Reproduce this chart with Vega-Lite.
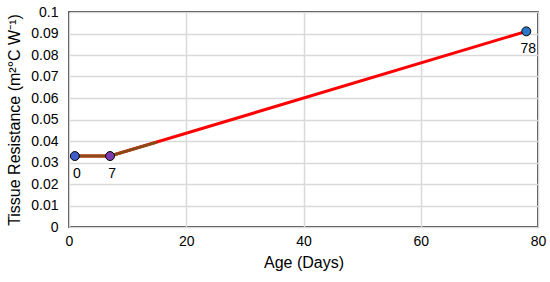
{
  "$schema": "https://vega.github.io/schema/vega-lite/v6.json",
  "width": 469,
  "height": 215,
  "autosize": {"type": "none"},
  "padding": {"left": 69, "top": 12, "right": 12, "bottom": 55},
  "background": "white",
  "config": {
    "font": "Liberation Sans",
    "view": {"stroke": "black", "strokeWidth": 1.5},
    "axis": {"labelFont": "Liberation Sans", "titleFont": "Liberation Sans", "labelColor": "black", "titleColor": "black", "labelFontSize": 14, "titleFontSize": 16, "titleFontWeight": "normal", "gridColor": "#d9d9d9", "gridWidth": 1.5, "domain": false, "ticks": false, "labelOverlap": false, "labelFlush": false}
  },
  "datasets": {
    "pts": [
      {"day": 1, "r": 0.033, "label": "0", "grp": "a"},
      {"day": 7, "r": 0.033, "label": "7", "grp": "b"},
      {"day": 78, "r": 0.091, "label": "78", "grp": "c"}
    ],
    "seg": [
      {"day": 1, "r": 0.033},
      {"day": 7, "r": 0.033},
      {"day": 15, "r": 0.0395}
    ]
  },
  "data": {"name": "pts"},
  "encoding": {
    "x": {"field": "day", "type": "quantitative", "scale": {"domain": [0, 80], "nice": false}, "axis": {"values": [0, 20, 40, 60, 80], "title": "Age (Days)", "labelPadding": 7, "titlePadding": 6}},
    "y": {"field": "r", "type": "quantitative", "scale": {"domain": [0, 0.1], "nice": false}, "axis": {"values": [0, 0.01, 0.02, 0.03, 0.04, 0.05, 0.06, 0.07, 0.08, 0.09, 0.1], "tickCount": 11, "format": "~g", "title": "Tissue Resistance (m²°C W⁻¹)", "labelPadding": 11, "titlePadding": 8}}
  },
  "layer": [
    {
      "mark": {"type": "line", "color": "#ff0000", "strokeWidth": 3}
    },
    {
      "data": {"name": "seg"},
      "mark": {"type": "line", "color": "#8a4a14", "strokeWidth": 3}
    },
    {
      "mark": {"type": "point", "filled": true, "size": 80, "stroke": "black", "strokeWidth": 1, "opacity": 1},
      "encoding": {
        "fill": {"field": "grp", "type": "nominal", "scale": {"domain": ["a", "b", "c"], "range": ["#3f5fc8", "#7a3bb0", "#2a78c8"]}, "legend": null}
      }
    },
    {
      "mark": {"type": "text", "dy": 18, "dx": 2, "fontSize": 14, "color": "black", "font": "Liberation Sans"},
      "encoding": {
        "text": {"field": "label"}
      }
    }
  ]
}
